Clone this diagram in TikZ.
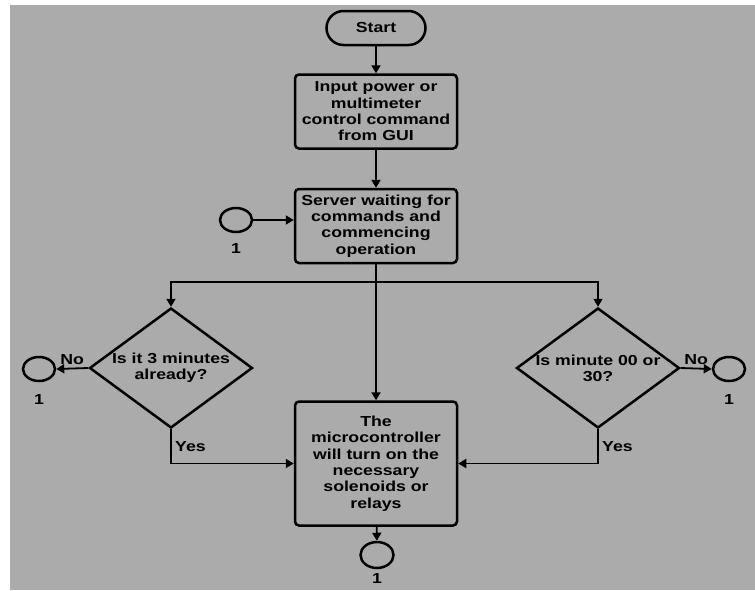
\documentclass[tikz,border=0pt]{standalone}
\usepackage{fontspec}
\setmainfont{Liberation Sans}[FakeStretch=1.22]
\usetikzlibrary{positioning,shapes.geometric,arrows.meta}
\definecolor{sheet}{RGB}{171,171,171}

\begin{document}
\begin{tikzpicture}[x=1pt, y=-1pt, font=\fontsize{14.5}{16.3}\selectfont\bfseries,
    >={Triangle[length=8pt,width=9pt]}, line/.style = {line width=1.8pt},
    term/.style = {draw, line width=2.5pt, rounded corners=17pt, minimum width=99pt, minimum height=34pt},
    proc/.style = {draw, line width=2.5pt, rounded corners=4pt, align=center, minimum width=162pt, minimum height=74pt},
    dec/.style = {draw, diamond, line width=2.5pt, inner sep=0pt, minimum width=163pt, minimum height=120pt},
    conn/.style = {draw, ellipse, line width=2.5pt, inner sep=0pt, minimum width=32pt, minimum height=24pt}]
        \useasboundingbox (0,0) rectangle (755,590);
        \fill[sheet] (10,5) rectangle (755,590);
        \node[term] (start) at (376,28) {Start};
        \node[proc] (input) [below=27pt of start] {Input power or\\multimeter\\control command\\from GUI};
        \node[proc] (server) [below=38pt of input] {Server waiting for\\commands and\\commencing\\operation};
        \node[proc, minimum height=124pt] (act) [below=136pt of server] {The\\microcontroller\\will turn on the\\necessary\\solenoids or\\relays};
        \node[dec, label={[align=center]center:Is it 3 minutes\\already?}] (ask3) at (171,368) {};
        \node[dec, label={[align=center]center:Is minute 00 or\\30?}] (ask30) at (598,368) {};
        \node[conn, label={[label distance=7pt]below:1}] (c0) at (236,220) {};
        \node[conn, label={[label distance=9pt]below:1}] (c1) at (39,369) {};
        \node[conn, label={[label distance=9pt]below:1}] (c2) at (729,369) {};
        \node[conn, minimum width=33pt, minimum height=26pt, label={[label distance=1pt]below:1}] (c3) at (377,555) {};
        \coordinate (split) at (376,282);
        \draw[line, ->] (start) -- (input);
        \draw[line, ->] (input) -- (server);
        \draw[line, ->] (server) -- (act);
        \draw[line, ->] (c0.east) -- (c0.east -| server.west);
        \draw[line, ->] (split) -| (ask3.north);
        \draw[line, ->] (split) -| (ask30.north);
        \draw[line, ->] (ask3.west) -- (c1.east) node[midway, above] {No};
        \draw[line, ->] (ask30.east) -- (c2.west) node[midway, above] {No};
        \draw[line, ->] (ask3.south) |- (act.west) node[pos=0.25, right] {Yes};
        \draw[line, ->] (ask30.south) |- (act.east) node[pos=0.25, right] {Yes};
        \draw[line, ->] (act) -- (c3);
    \end{tikzpicture}
\end{document}
